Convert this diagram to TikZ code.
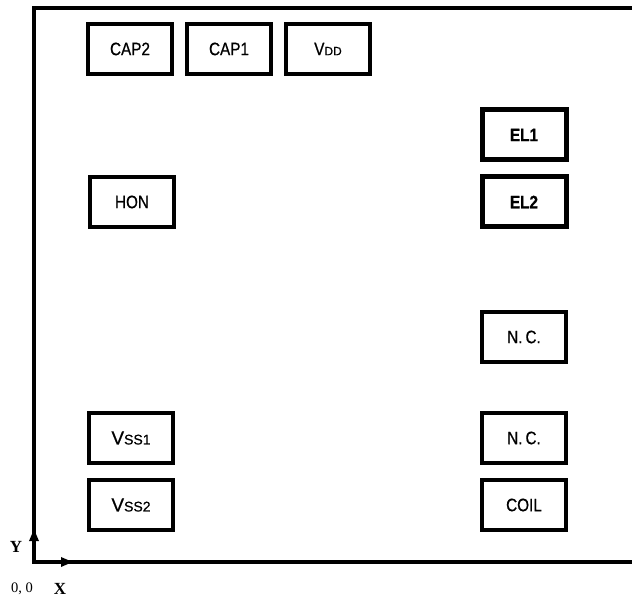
\documentclass[tikz,border=0pt]{standalone}
\usepackage{fontspec}
\setmainfont{Liberation Serif}
\newfontfamily\narrowsans[FakeStretch=0.85,FakeBold=0.6]{Liberation Sans}
\newfontfamily\plainsans[FakeBold=0.6]{Liberation Sans}
\usetikzlibrary{arrows.meta}
\begin{document}
\begin{tikzpicture}[x=1pt,y=-1pt,
  pin/.style={draw,line width=4pt,minimum width=84pt,minimum height=50pt,inner sep=0pt,font=\narrowsans\fontsize{18}{18}\selectfont},
  pinbold/.style={pin,line width=5pt,font=\narrowsans\bfseries\fontsize{18}{18}\selectfont},
  pinv/.style={pin,font=\plainsans\fontsize{19}{19}\selectfont},
  axlab/.style={inner sep=0pt,font=\bfseries\fontsize{17}{17}\selectfont},
  axarrow/.style={line width=4pt,-{Triangle[length=12pt,width=9pt]}}]
\useasboundingbox (0,0) rectangle (632,601);
% frame
\draw[line width=4pt] (634,8) -- (34,8) -- (34,562) -- (634,562);
% pins
\node[pin] (cap2) at (130,49) {CAP2};
\node[pin] (cap1) at (229,49) {CAP1};
\node[pin] (vdd) at (328,49) {V{\plainsans\fontsize{12}{12}\selectfont DD}};
\node[pin] (hon) at (132,202) {HON};
\node[pinv] (vss1) at (131,438) {V{\fontsize{14}{14}\selectfont SS1}};
\node[pinv] (vss2) at (131,505) {V{\fontsize{14}{14}\selectfont SS2}};
\node[pinbold] (el1) at (524,135) {EL1};
\node[pinbold] (el2) at (524,202) {EL2};
\node[pin] (nc1) at (524,337) {N.\,C.};
\node[pin] (nc2) at (524,438) {N.\,C.};
\node[pin] (coil) at (524,505) {COIL};
% axes
\coordinate (o) at (34,562);
\coordinate (ytip) at (34,529);
\coordinate (xtip) at (73,562);
\draw[axarrow] (o) -- (ytip);
\draw[axarrow] (o) -- (xtip);
\node[axlab] (ylab) at (16,547) {Y};
\node[axlab] (xlab) at (60,589) {X};
\node[inner sep=0pt,font=\fontsize{14.5}{14.5}\selectfont] (olab) at (22,589) {0, 0};
\end{tikzpicture}
\end{document}
